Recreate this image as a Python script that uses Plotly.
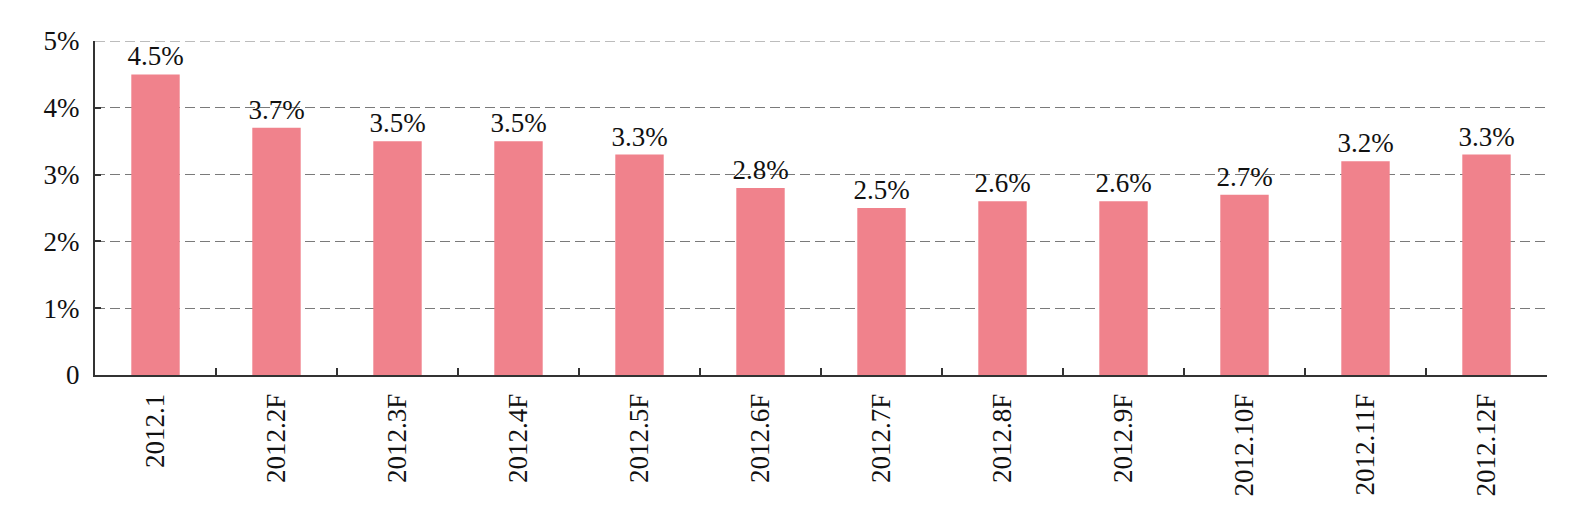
import plotly.graph_objects as go

categories = ["2012.1", "2012.2F", "2012.3F", "2012.4F", "2012.5F", "2012.6F",
              "2012.7F", "2012.8F", "2012.9F", "2012.10F", "2012.11F", "2012.12F"]
values = [4.5, 3.7, 3.5, 3.5, 3.3, 2.8, 2.5, 2.6, 2.6, 2.7, 3.2, 3.3]
labels = [f"{v:.1f}%" for v in values]
ytick_vals = [0, 1, 2, 3, 4, 5]
ytick_text = ["0", "1%", "2%", "3%", "4%", "5%"]
y_max = ytick_vals[-1]

FONT = "Liberation Serif"
FS = 27
GRID = dict(color="#7a7a7a", width=1.2, dash="10px,5px")

fig = go.Figure(go.Bar(
    x=categories, y=values, text=labels, textposition="outside",
    textfont=dict(family=FONT, size=FS, color="#111111"),
    constraintext="none",
    marker=dict(color="#F0828C", line=dict(width=0)),
    cliponaxis=False,
))

fig.update_layout(
    width=1586, height=520,
    margin=dict(l=95, r=39, t=41, b=145),
    paper_bgcolor="white", plot_bgcolor="white",
    bargap=0.6, showlegend=False,
    font=dict(family=FONT, size=FS, color="#111111"),
    shapes=[dict(type="line", xref="paper", yref="y", x0=0, x1=1, y0=y_max, y1=y_max,
                 line=GRID, layer="below")],
)
fig.update_xaxes(
    type="category", tickangle=-90, showgrid=False,
    showline=True, linecolor="#333333", linewidth=2,
    ticks="inside", tickson="boundaries", ticklen=7, tickwidth=2, tickcolor="#333333",
    ticklabelstandoff=6,
    tickfont=dict(family=FONT, size=FS, color="#111111"),
)
fig.update_yaxes(
    range=[0, y_max], tickvals=ytick_vals, ticktext=ytick_text,
    showgrid=True, gridcolor=GRID["color"], griddash=GRID["dash"], gridwidth=GRID["width"],
    showline=True, linecolor="#333333", linewidth=2,
    ticks="inside", ticklen=6, tickwidth=2, tickcolor="#333333",
    ticklabelstandoff=8, zeroline=False,
    tickfont=dict(family=FONT, size=FS, color="#111111"),
)

fig.write_html("out.html")
